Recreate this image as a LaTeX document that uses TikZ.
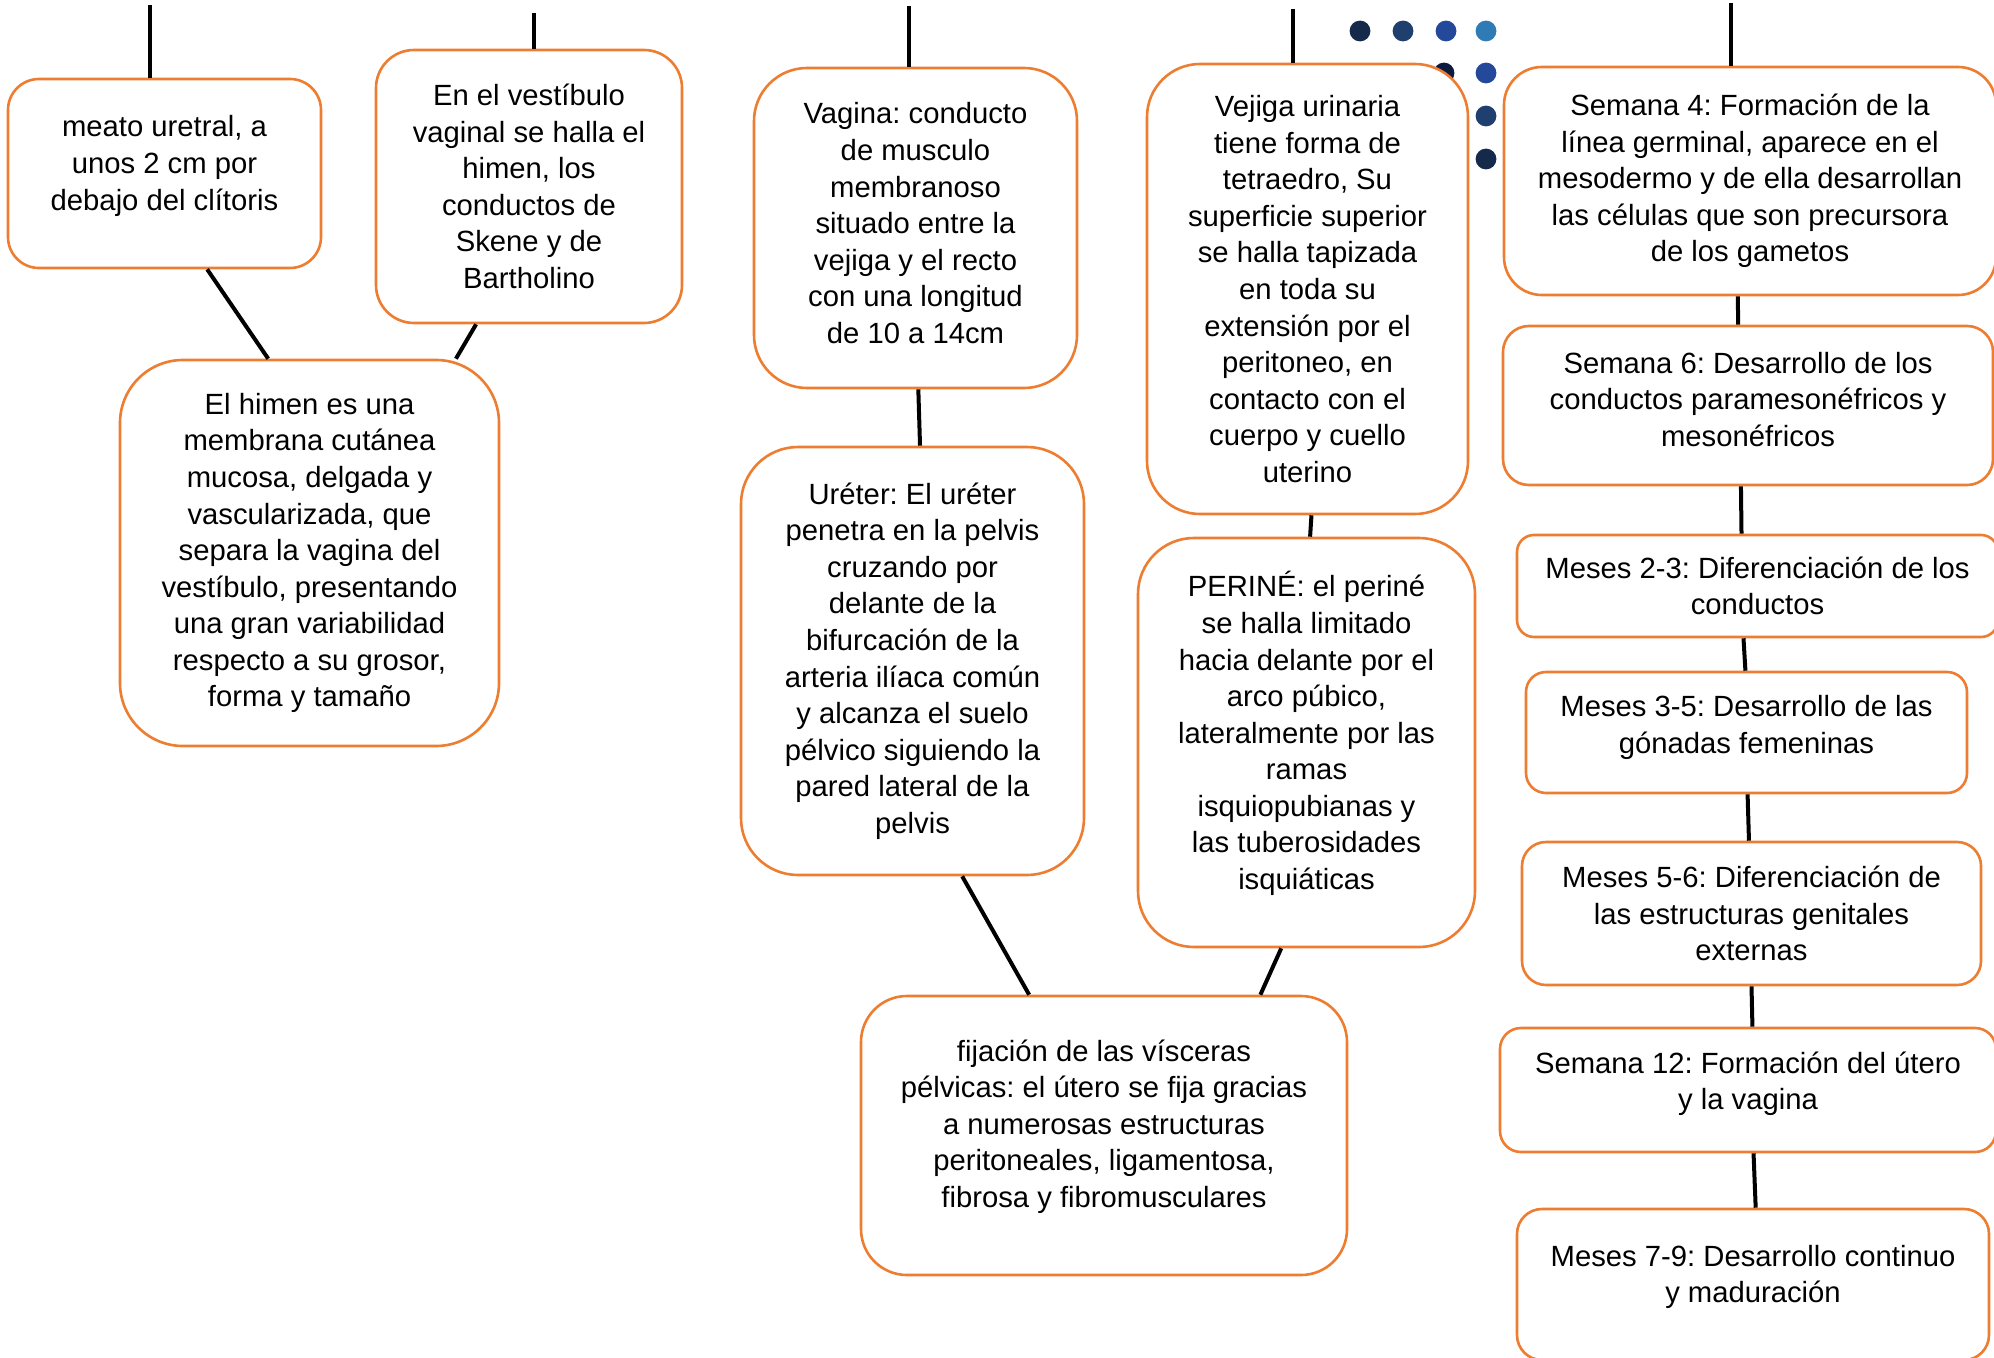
\documentclass[tikz,border=0pt]{standalone}
\usepackage{fontspec}
\setmainfont{Liberation Sans}
\usepackage{xcolor}
\definecolor{boxorange}{HTML}{ED7D31}
\definecolor{dotA}{HTML}{15294B}
\definecolor{dotB}{HTML}{1F3F6F}
\definecolor{dotC}{HTML}{25499A}
\definecolor{dotD}{HTML}{2E7BB5}
\definecolor{dotE}{HTML}{0D1B3E}
\newcommand{\lift}[1]{\rule[-#1]{0pt}{#1}}
\frenchspacing

\begin{document}
\begin{tikzpicture}[
      x=0.25mm, y=-0.25mm,
      box/.style={draw=boxorange, line width=0.65mm, fill=white, align=center, inner sep=0pt, font=\fontsize{20.8pt}{26pt}\selectfont},
      link/.style={line width=1mm, black},
      dot/.style={radius=2.6mm}
    ]
    \useasboundingbox (0,0) rectangle (1994,1358);

    \foreach \px/\py/\col in {1360/31/dotA, 1403/31/dotB, 1446/31/dotC, 1486/31/dotD,
                              1486/73/dotC, 1486/116/dotB, 1486/159/dotA, 1444/73/dotE}
      \fill[\col] (\px,\py) circle[dot];

    \node[box, minimum width=78.25mm, minimum height=47.25mm, rounded corners=7.75mm] (meato) at (164.5,173.5)
      {meato uretral, a\\unos 2 cm por\\debajo del clítoris\lift{5.3mm}};
    \node[box, minimum width=76.5mm, minimum height=68.25mm, rounded corners=9.5mm] (vestibulo) at (529,186.5)
      {En el vestíbulo\\vaginal se halla el\\himen, los\\conductos de\\Skene y de\\Bartholino};
    \node[box, minimum width=94.75mm, minimum height=96.5mm, rounded corners=15.75mm] (himen) at (309.5,553)
      {El himen es una\\membrana cutánea\\mucosa, delgada y\\vascularizada, que\\separa la vagina del\\vestíbulo, presentando\\una gran variabilidad\\respecto a su grosor,\\forma y tamaño};

    \node[box, minimum width=80.75mm, minimum height=80mm, rounded corners=13.25mm] (vagina) at (915.5,228)
      {Vagina: conducto\\de musculo\\membranoso\\situado entre la\\vejiga y el recto\\con una longitud\\de 10 a 14cm\lift{2.5mm}};
    \node[box, minimum width=85.75mm, minimum height=107mm, rounded corners=14.25mm] (ureter) at (912.5,661)
      {Uréter: El uréter\\penetra en la pelvis\\cruzando por\\delante de la\\bifurcación de la\\arteria ilíaca común\\y alcanza el suelo\\pélvico siguiendo la\\pared lateral de la\\pelvis};
    \node[box, minimum width=121.5mm, minimum height=69.75mm, rounded corners=11.5mm] (fijacion) at (1104,1135.5)
      {fijación de las vísceras\\pélvicas: el útero se fija gracias\\a numerosas estructuras\\peritoneales, ligamentosa,\\fibrosa y fibromusculares\lift{6mm}};
    \node[box, minimum width=80.25mm, minimum height=112.5mm, rounded corners=13.25mm] (vejiga) at (1307.5,289)
      {Vejiga urinaria\\tiene forma de\\tetraedro, Su\\superficie superior\\se halla tapizada\\en toda su\\extensión por el\\peritoneo, en\\contacto con el\\cuerpo y cuello\\uterino};
    \node[box, minimum width=84.25mm, minimum height=102.25mm, rounded corners=14mm] (perine) at (1306.5,742.5)
      {PERINÉ: el periné\\se halla limitado\\hacia delante por el\\arco púbico,\\lateralmente por las\\ramas\\isquiopubianas y\\las tuberosidades\\isquiáticas\lift{6mm}};

    \node[box, minimum width=123mm, minimum height=57mm, rounded corners=9.5mm] (sem4) at (1750,181)
      {Semana 4: Formación de la\\línea germinal, aparece en el\\mesodermo y de ella desarrollan\\las células que son precursora\\de los gametos};
    \node[box, minimum width=122.5mm, minimum height=39.75mm, rounded corners=6.5mm] (sem6) at (1748,405.5)
      {Semana 6: Desarrollo de los\\conductos paramesonéfricos y\\mesonéfricos\lift{3.2mm}};
    \node[box, minimum width=120.25mm, minimum height=25.5mm, rounded corners=4.25mm] (mes23) at (1757.5,586)
      {Meses 2-3: Diferenciación de los\\conductos};
    \node[box, minimum width=110.25mm, minimum height=30.25mm, rounded corners=5mm] (mes35) at (1746.5,732.5)
      {Meses 3-5: Desarrollo de las\\gónadas femeninas\lift{4mm}};
    \node[box, minimum width=114.75mm, minimum height=35.75mm, rounded corners=6mm] (mes56) at (1751.5,913.5)
      {Meses 5-6: Diferenciación de\\las estructuras genitales\\externas};
    \node[box, minimum width=124mm, minimum height=31mm, rounded corners=5.25mm] (sem12) at (1748,1090)
      {Semana 12: Formación del útero\\y la vagina\lift{4.7mm}};
    \node[box, minimum width=118mm, minimum height=37.75mm, rounded corners=6.25mm] (mes79) at (1753,1284.5)
      {Meses 7-9: Desarrollo continuo\\y maduración\lift{5.3mm}};

    \coordinate (topmeato) at (150,5);
    \coordinate (topvest) at (533.5,13);
    \coordinate (topvagina) at (909,6);
    \coordinate (topvejiga) at (1293,9);
    \coordinate (topsem4) at (1731,3);

    \draw[link] (topmeato) -- (topmeato |- meato.north);
    \draw[link] (topvest) -- (topvest |- vestibulo.north);
    \draw[link] (topvagina) -- (topvagina |- vagina.north);
    \draw[link] (topvejiga) -- (topvejiga |- vejiga.north);
    \draw[link] (topsem4) -- (topsem4 |- sem4.north);

    \draw[link] (meato.-66.3) -- (himen.102.6);
    \draw[link] (vestibulo.-111.7) -- (himen.53.6);
    \draw[link] (vagina.-89.1) -- (ureter.88.3);
    \draw[link] (ureter.-77.7) -- (fijacion.118.3);
    \draw[link] (vejiga.-89.4) -- (perine.89);
    \draw[link] (perine.-97.4) -- (fijacion.42);

    \draw[link] (sem4.-96.5) -- (sem6.97.9);
    \draw[link] (sem6.-95.8) -- (mes23.107.9);
    \draw[link] (mes23.-105.9) -- (mes35.91.4);
    \draw[link] (mes35.-89.5) -- (mes56.92.8);
    \draw[link] (mes56.-90.2) -- (sem12.86.3);
    \draw[link] (sem12.-85.4) -- (mes79.88.5);
  \end{tikzpicture}
\end{document}
